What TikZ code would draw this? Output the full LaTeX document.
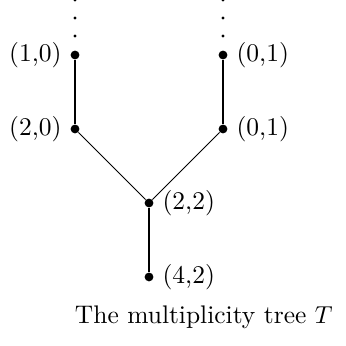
\documentclass[tikz,border=0pt]{standalone}
\usepackage{tikz}
\usetikzlibrary{positioning}

\begin{document}
\begin{tikzpicture}[x=1.062cm,y=1.062cm,font=\fontsize{10.4}{12.5}\selectfont,vert/.style={circle,fill=black,inner sep=0pt,minimum size=3.6pt},dotted/.style={circle,fill=black,inner sep=0pt,minimum size=1.3pt}]
    \useasboundingbox (-2.014,-1.932) rectangle (2.662,2.743);
    % vertices of the tree
    \node[vert,label={[label distance=0pt]left:(1,0)}] at (-1,2) (la) {};
    \node[vert,label={[label distance=0pt]left:(2,0)}] at (-1,1) (lb) {};
    \node[vert,label={[label distance=0pt]right:(0,1)}] at (1,2) (ra) {};
    \node[vert,label={[label distance=0pt]right:(0,1)}] at (1,1) (rb) {};
    \node[vert,label={[label distance=0pt]right:(2,2)}] at (0,0) (root) {};
    \node[vert,label={[label distance=0pt]right:(4,2)}] at (0,-1) (low) {};
    % dots going up
    \foreach \y/\n in {2.257/1,2.5/2,2.743/3} {
        \node[dotted] at (-1,\y) (ld\n) {};
        \node[dotted] at (1,\y) (rd\n) {};
    }
    
    \draw[line width=1.1pt] (la) -- (lb);
    \draw[line width=1.1pt] (ra) -- (rb);
    \draw[line width=1.1pt] (root) -- (low);
    \draw (lb) -- (root);
    \draw (rb) -- (root);
    \node at (0.74,-1.54) (cap) {The multiplicity tree $T$};
\end{tikzpicture}
\end{document}
